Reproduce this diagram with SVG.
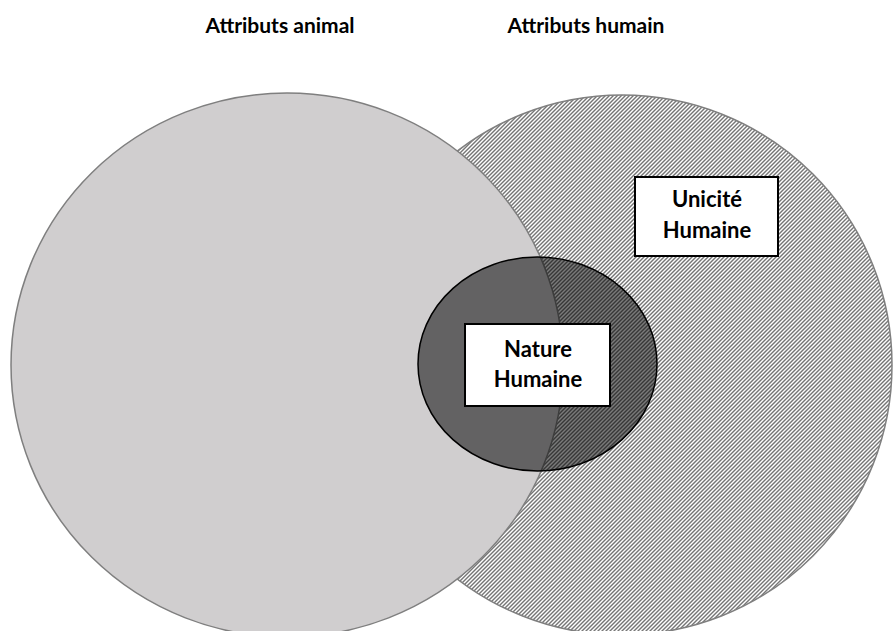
<svg xmlns="http://www.w3.org/2000/svg" width="893" height="631" viewBox="0 0 893 631">
<style>
.big{stroke:#7f7f7f;stroke-width:1.5}
.lbl{font-family:Lato,"Open Sans","Liberation Sans",sans-serif;font-weight:bold;fill:#000;text-anchor:middle}
.box{fill:#fff;stroke:#000;stroke-width:2}
</style>
<defs>
<pattern id="hatch" width="4" height="4" patternUnits="userSpaceOnUse">
<rect width="4" height="4" fill="#fff"/>
<path d="M0,0H2L0,2Z M4,0V2L2,4H0Z" fill="#767676"/>
</pattern>
</defs>
<rect width="893" height="631" fill="#fff"/>
<g id="titles">
<text class="lbl" x="280" y="33" font-size="21">Attributs animal</text>
<text class="lbl" x="586" y="33" font-size="21">Attributs humain</text>
</g>
<g id="human-attributes">
<ellipse class="big" cx="622" cy="365" rx="270" ry="270" fill="url(#hatch)"/>
</g>
<g id="animal-attributes">
<ellipse class="big" cx="287" cy="365" rx="276" ry="272" fill="#d0cecf"/>
</g>
<g id="human-nature-zone">
<ellipse cx="537.5" cy="364" rx="119.5" ry="107" fill="#000" fill-opacity="0.52" stroke="#000" stroke-width="1.5"/>
</g>
<g id="unicite">
<rect class="box" x="635" y="177" width="143" height="79"/>
<text class="lbl" x="707" y="207" font-size="22">Unicité</text>
<text class="lbl" x="707" y="238" font-size="22">Humaine</text>
</g>
<g id="nature">
<rect class="box" x="465" y="324" width="145" height="82"/>
<text class="lbl" x="538" y="357" font-size="22">Nature</text>
<text class="lbl" x="538" y="387" font-size="22">Humaine</text>
</g>
<g id="connectors"></g>
</svg>
